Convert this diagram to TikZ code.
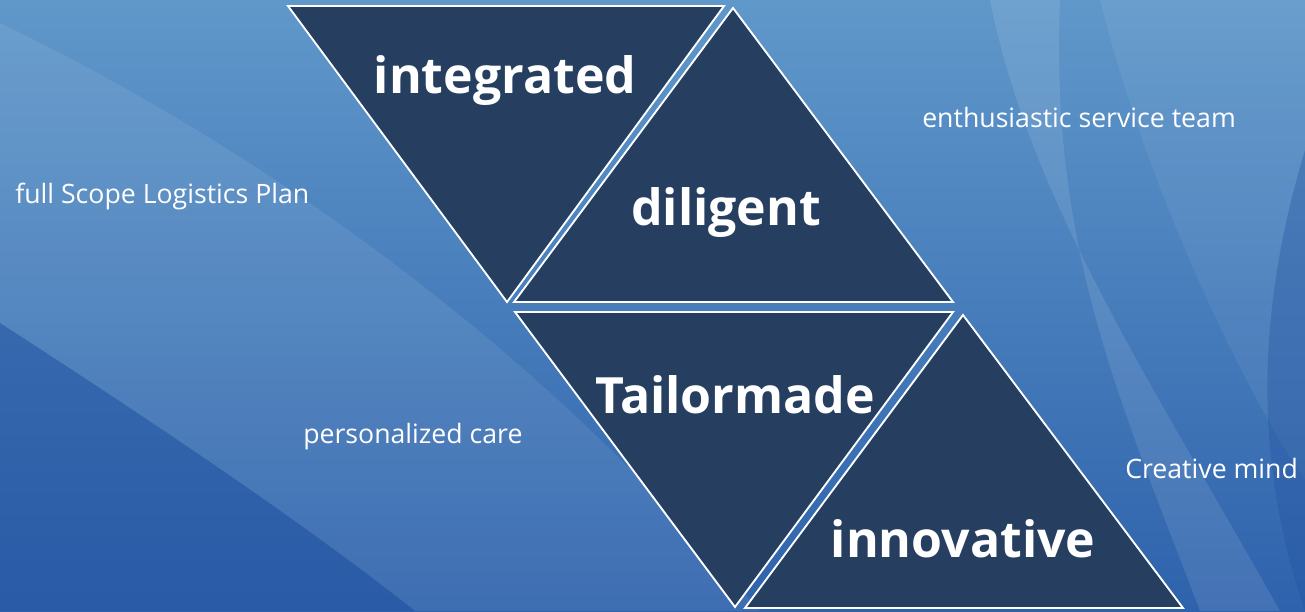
\documentclass[tikz,border=0pt]{standalone}
\usepackage{fontspec}
\setmainfont{Open Sans}
\definecolor{navy}{HTML}{263F60}
\definecolor{bgtop}{HTML}{6098CA}
\definecolor{bgbot}{HTML}{2E62AC}
\definecolor{bgdark}{HTML}{2353A0}

\begin{document}
\begin{tikzpicture}[x=0.75pt, y=-0.75pt,
    tri/.style={fill=navy, draw=white, line width=1.4pt, line join=miter},
    big/.style={text=white, font=\fontsize{37.5}{40}\selectfont\bfseries, inner sep=0pt, anchor=base},
    small/.style={text=white, font=\fontsize{20}{24}\selectfont, inner sep=0pt, anchor=base west}]
\useasboundingbox (0,0) rectangle (1305,611);
% background
\shade[top color=bgtop, bottom color=bgbot] (0,0) rectangle (1305,611);
\fill[white, opacity=0.08] (0,23) .. controls (200,120) and (500,300) .. (760,611)
    -- (415,611) .. controls (300,520) and (150,420) .. (0,323) -- cycle;
\fill[bgdark, opacity=0.45] (0,323) .. controls (150,420) and (300,520) .. (415,611) -- (0,611) -- cycle;
\fill[white, opacity=0.10] (990,0) .. controls (1030,200) and (1150,380) .. (1280,611)
    -- (1200,611) .. controls (1120,400) and (1050,250) .. (1060,0) -- cycle;
\fill[white, opacity=0.06] (1100,0) .. controls (1150,200) and (1250,400) .. (1305,480) -- (1305,0) -- cycle;
\fill[bgdark, opacity=0.35] (1305,150) .. controls (1260,300) and (1250,450) .. (1305,611) -- cycle;
% triangles
\foreach \ax/\ay/\bx/\by/\cx/\cy in {288/6/724/6/507/302, 733/8/514/302/953/302,
    515/312/953/312/735/607, 963/315/745/608/1183/608}
    \draw[tri] (\ax,\ay) -- (\bx,\by) -- (\cx,\cy) -- cycle;
% words
\node[big] (integrated) at (505,93) {integrated};
\node[big] (diligent) at (726,225) {diligent};
\node[big] (tailormade) at (735,413) {Tailormade};
\node[big] (innovative) at (963,557) {innovative};
\node[small] (fullscope) at (15,203) {full Scope Logistics Plan};
\node[small] (team) at (922,127) {enthusiastic service team};
\node[small] (care) at (303,443) {personalized care};
\node[small] (creative) at (1125,478) {Creative mind};
\end{tikzpicture}
\end{document}
